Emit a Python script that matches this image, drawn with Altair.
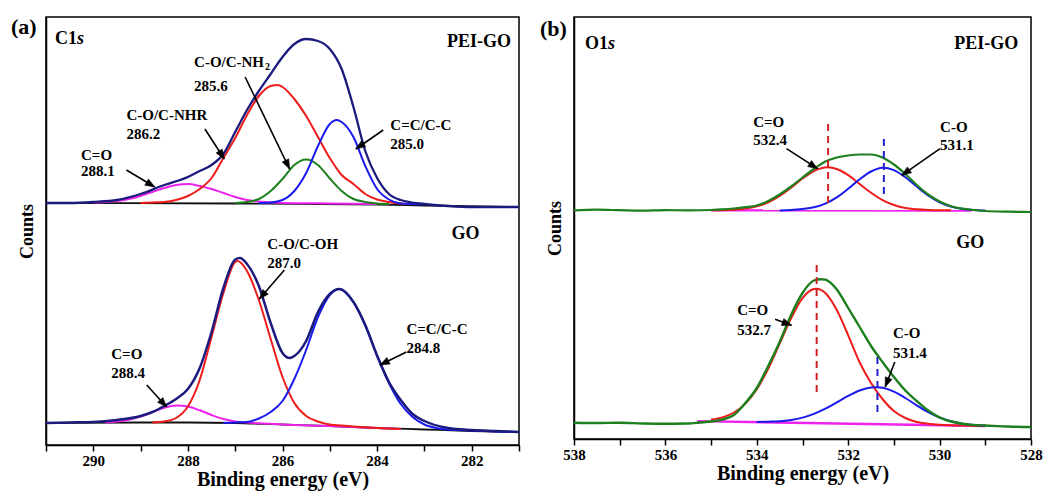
import math
import altair as alt
import pandas as pd

FONT = "Liberation Serif"
NAVY = "#1b1b7d"
RED = "#ee1b1b"
BLUE = "#1a1aee"
GREEN = "#1d7f1d"
MAGENTA = "#ee22ee"
BLACK = "#111111"

# ---------------- Panel (a): C1s, PEI-GO (upper spectrum) ----------------
a1_env_E = [291, 290.5, 290, 289.5, 289, 288.5, 288, 287.75, 287.5, 287.25, 287, 286.75, 286.5, 286.25,
            286, 285.75, 285.5, 285.25, 285, 284.75, 284.5, 284.25, 284, 283.75, 283.5, 283, 282.5, 282, 281.5, 281]
a1_env_C = [242, 242, 243, 245, 251, 260, 268, 274, 280, 291, 313, 335, 354, 371,
            388, 401, 406, 404, 396, 376, 338, 294, 267, 251, 245, 241, 239, 238, 238, 238]
a1_base_E = [291, 287, 284, 283, 281]
a1_base_C = [242, 241.5, 240.5, 239.5, 238]
a1_mag_E = [290, 289.75, 289.5, 289.25, 289, 288.75, 288.5, 288.25, 288, 287.75, 287.5, 287.25, 287,
            286.75, 286.5, 286.25, 286, 285, 284]
a1_mag_C = [242.5, 243, 244, 246, 249, 253, 257, 260, 261, 259, 256, 252, 248,
            245, 243.5, 242.5, 242, 241.5, 241]
a1_red_E = [289, 288.75, 288.5, 288.25, 288, 287.75, 287.5, 287.25, 287, 286.75, 286.5, 286.25, 286.1, 286,
            285.75, 285.5, 285.25, 285, 284.75, 284.5, 284.25, 284, 283.75, 283.5, 283.25]
a1_red_C = [242, 242.5, 243, 245, 249, 256, 267, 287, 307, 330, 349, 359, 360, 358,
            346, 329, 308, 287, 270, 261, 251, 245.5, 243, 241.5, 241]
a1_green_E = [287, 286.75, 286.5, 286.25, 286, 285.75, 285.5, 285.25, 285, 284.75, 284.5, 284.25, 284, 283.75]
a1_green_C = [242, 243, 246, 254, 266, 280, 285.5, 280, 266.5, 254, 246, 243, 241.5, 241]
a1_blue_E = [286.5, 286.25, 286, 285.75, 285.5, 285.25, 285, 284.85, 284.75, 284.5, 284.25, 284, 283.75,
             283.5, 283.25, 283]
a1_blue_C = [242, 242.5, 245, 254, 272, 299, 321, 325, 323, 308, 279, 256, 245.5, 241.5, 241, 240.5]

# ---------------- Panel (a): C1s, GO (lower spectrum) ----------------
a2_env_E = [291, 290.5, 290, 289.5, 289, 288.75, 288.5, 288.25, 288, 287.75, 287.5, 287.25, 287, 286.9,
            286.75, 286.5, 286.25, 286, 285.85, 285.75, 285.5, 285.25, 285, 284.8, 284.5, 284.25, 284,
            283.75, 283.5, 283.25, 283, 282.5, 282, 281.5, 281]
a2_env_C = [22, 22.5, 23, 25, 29, 33, 39, 46, 56, 77, 113, 157, 185.5, 187,
            181, 159, 122, 92, 87, 89, 104, 133, 151, 156, 143, 120, 89.5,
            63, 45, 31, 24, 17, 15, 14, 13]
a2_base_E = [291, 289, 288, 287, 286, 285, 284, 283, 282, 281]
a2_base_C = [22, 22.5, 22.5, 22, 20.5, 19, 17, 15.5, 14, 13]
a2_mag_E = [289.75, 289.5, 289.25, 289, 288.75, 288.5, 288.25, 288, 287.75, 287.5, 287.25, 287, 286.75,
            286.5, 286, 285, 284, 283.5]
a2_mag_C = [22.5, 23.5, 25.3, 28.4, 32.8, 37.2, 39.5, 38.4, 34.7, 30, 26, 23.6, 22.5,
            21.7, 20.5, 19, 17, 16]
a2_red_E = [288.75, 288.5, 288.25, 288, 287.75, 287.5, 287.25, 287, 286.95, 286.75, 286.5, 286.25, 286,
            285.75, 285.5, 285.25, 285, 284.75, 284.5, 284, 283.5]
a2_red_C = [22.5, 23.5, 27, 38.5, 65, 108, 152, 183, 184, 174, 145, 106, 68,
            42, 29, 23.5, 20.5, 19.5, 18.5, 17, 16]
a2_blue_E = [287.25, 287, 286.75, 286.5, 286.25, 286, 285.75, 285.5, 285.25, 285, 284.8, 284.75, 284.5,
             284.25, 284, 283.75, 283.5, 283.25, 283, 282.75, 282.5, 282, 281.5, 281]
a2_blue_C = [22, 22.5, 23, 26.5, 33, 44, 66, 95, 128, 150, 156, 155.5, 143,
             119.5, 89, 62, 41, 28, 20.5, 17, 15.5, 14.5, 13.5, 13]

# ---------------- Panel (b): O1s, PEI-GO ----------------
b1_env_E = [538, 537.5, 537, 536.5, 536, 535.5, 535, 534.75, 534.5, 534.25, 534, 533.75, 533.5, 533.25,
            533, 532.75, 532.5, 532.25, 532, 531.75, 531.5, 531.25, 531, 530.75, 530.5, 530.25, 530,
            529.75, 529.5, 529.25, 529, 528.5, 528]
b1_env_C = [228.7, 229.3, 228.8, 228.4, 228.9, 228.6, 229, 229.6, 230.5, 231.8, 233.5, 238, 244.5, 252.5,
            261.5, 270, 277.5, 281.5, 283.5, 284.5, 284.5, 281.5, 274.5, 265, 254, 244.5, 237.5,
            232.8, 230.3, 229, 228, 227.3, 227]
b1_red_E = [535, 534.5, 534.25, 534, 533.75, 533.5, 533.25, 533, 532.75, 532.45, 532.25, 532, 531.75,
            531.5, 531.25, 531, 530.75, 530.5, 530.25, 530, 529.75]
b1_red_C = [228.7, 229.3, 230.4, 232.6, 236.6, 243, 251.4, 260.5, 268, 271.7, 270, 263.8, 255,
            246.2, 238.9, 234, 231, 229.7, 229, 228.7, 228.7]
b1_blue_E = [533.5, 533.25, 533, 532.75, 532.5, 532.25, 532, 531.75, 531.5, 531.25, 531, 530.75, 530.5,
             530.25, 530, 529.75, 529.5, 529.25, 529]
b1_blue_C = [228.6, 229, 230, 231.7, 235.4, 241.6, 250.2, 259.7, 267.5, 271.2, 268.9, 261.8, 252.5,
             243.5, 236.7, 232.4, 230.1, 229.1, 228.5]
b1_mag_E = [535, 529.3]
b1_mag_C = [228.7, 228.5]
b1_dash_E = [532.44, 531.22]
b1_dash_C1 = [236, 245]
b1_dash_C2 = [316, 305]

# ---------------- Panel (b): O1s, GO ----------------
b2_env_E = [538, 537.5, 537, 536.5, 536, 535.5, 535.25, 535, 534.75, 534.5, 534.25, 534, 533.75, 533.5,
            533.25, 533, 532.75, 532.6, 532.5, 532.25, 532, 531.75, 531.5, 531.25, 531, 530.75, 530.5,
            530.25, 530, 529.75, 529.5, 529.25, 529, 528.5, 528]
b2_env_C = [16.3, 16, 16.2, 15.5, 15.3, 15.5, 16.5, 17.5, 19.5, 24, 36, 51, 73, 97,
            124, 146, 158.5, 159.8, 159.3, 149.5, 131, 112, 93, 77, 62, 48.5, 38,
            28.5, 21.5, 17.5, 15.3, 14, 13.5, 12.5, 12]
b2_red_E = [535, 534.75, 534.5, 534.25, 534, 533.75, 533.5, 533.25, 533, 532.75, 532.69, 532.5, 532.25,
            532, 531.75, 531.5, 531.25, 531, 530.75, 530.5, 530.25, 530, 529.5, 529]
b2_red_C = [19.4, 21.6, 26.5, 35.4, 49.9, 70.3, 95.3, 120.6, 140.9, 150, 150.3, 146, 129,
            103.7, 76.7, 56, 40, 28, 21, 17, 15.2, 14.2, 13.4, 12.9]
b2_blue_E = [534, 533.75, 533.5, 533.25, 533, 532.75, 532.5, 532.25, 532, 531.75, 531.5, 531.38, 531.25,
             531, 530.75, 530.5, 530.25, 530, 529.75, 529.5, 529.25, 529]
b2_blue_C = [17, 17.3, 17.8, 19.1, 21.4, 25.1, 30.3, 36.6, 43.1, 48.5, 51.5, 51.8, 51.2,
             47.4, 41, 33.7, 26.9, 21.5, 17.7, 15.3, 14, 13.3]
b2_mag_E = [535.3, 529]
b2_mag_C = [17.9, 13]
b2_dash_E = [532.69, 531.36]
b2_dash_C1 = [47, 27]
b2_dash_C2 = [174, 85]

# ---------------- Annotations ----------------
a_lab_text = ["C-O/C-NH", "285.6", "C-O/C-NHR", "286.2", "C=O", "288.1", "C=C/C-C", "285.0",
              "C-O/C-OH", "287.0", "C=C/C-C", "284.8", "C=O", "288.4"]
a_lab_E = [287.87, 287.87, 289.30, 289.30, 290.26, 290.26, 283.72, 283.72,
           286.32, 286.32, 283.38, 283.38, 289.62, 289.62]
a_lab_C = [383, 359, 330, 311.5, 290, 274, 320, 301,
           201.5, 182, 116.5, 97, 91.5, 72]
a_arr_E1 = [289.30, 287.64, 286.79, 283.87, 285.96, 283.38, 288.87]
a_arr_C1 = [275, 316, 368, 315, 175, 93, 60]
a_arr_E2 = [288.70, 287.23, 285.85, 284.45, 286.49, 283.94, 288.45]
a_arr_C2 = [258, 286, 276, 296, 146, 80, 38]

b_lab_text = ["C=O", "532.4", "C-O", "531.1", "C=O", "532.7", "C-O", "531.4"]
b_lab_E = [534.08, 534.08, 529.99, 529.99, 534.43, 534.43, 531.02, 531.02]
b_lab_C = [317, 299, 312, 294.5, 129, 109.5, 106, 86]
b_arr_E1 = [533.35, 529.99, 533.6, 530.98]
b_arr_C1 = [290.3, 290.3, 119.7, 77]
b_arr_E2 = [532.67, 530.83, 533.24, 531.19]
b_arr_C2 = [270.3, 263.7, 113.7, 52]

A_W, A_H = 473, 428
B_W, B_H = 457, 422

xa = alt.Scale(domain=[281, 291], reverse=True, nice=False, zero=False)
ya = alt.Scale(domain=[0, 428], nice=False, zero=False)
xb = alt.Scale(domain=[528, 538], reverse=True, nice=False, zero=False)
yb = alt.Scale(domain=[0, 422], nice=False, zero=False)


def x_axis(vals):
    return alt.Axis(values=vals, labelExpr="datum.value % 2 == 0 ? datum.label : ''", format="d",
                    title="Binding energy (eV)", grid=False, tickSize=6, tickWidth=1.5, tickColor="black",
                    domainColor="black", domainWidth=1.5, labelFont=FONT, labelFontSize=15,
                    labelFontWeight="bold", labelColor="black", labelPadding=2, labelFlush=False,
                    titleFont=FONT, titleFontSize=20, titleFontWeight="bold", titleColor="black",
                    titlePadding=1)


def y_axis(pad):
    return alt.Axis(title="Counts", labels=False, ticks=False, grid=False, domainColor="black",
                    domainWidth=1.5, titleFont=FONT, titleFontSize=18, titleFontWeight="bold",
                    titleColor="black", titlePadding=pad)


def enc(xs, ys, xax, yax):
    return dict(x=alt.X("E:Q", scale=xs, axis=xax), y=alt.Y("C:Q", scale=ys, axis=yax))


def curve(E, C, color, ctx, width=2.0):
    df = pd.DataFrame({"E": E, "C": C})
    return alt.Chart(df).mark_line(color=color, strokeWidth=width, interpolate="monotone",
                                   clip=True).encode(**enc(*ctx))


def texts(txt, E, C, ctx, size=15, align="left", dx=0, dy=0, style="normal"):
    df = pd.DataFrame({"t": txt, "E": E, "C": C})
    return alt.Chart(df).mark_text(align=align, baseline="middle", font=FONT, fontWeight="bold",
                                   fontSize=size, fontStyle=style, color="black", dx=dx,
                                   dy=dy).encode(text="t:N", **enc(*ctx))


def arrows(E1, C1, E2, C2, ctx, px_per_ev, px_per_c):
    ang = []
    for e1, c1, e2, c2 in zip(E1, C1, E2, C2):
        dx = -(e2 - e1) * px_per_ev
        dy = -(c2 - c1) * px_per_c
        ang.append(math.degrees(math.atan2(dx, -dy)) % 360)
    df = pd.DataFrame({"E": E1, "C": C1, "E2": E2, "C2": C2, "ang": ang})
    xs, ys, xax, yax = ctx
    shaft = alt.Chart(df).mark_rule(color="black", strokeWidth=1.6).encode(
        x=alt.X("E:Q", scale=xs, axis=xax), y=alt.Y("C:Q", scale=ys, axis=yax),
        x2="E2:Q", y2="C2:Q")
    head = alt.Chart(df).mark_point(shape="M0,0L-0.42,1.1L0.42,1.1Z", filled=True, fill="black",
                                    stroke="black", strokeWidth=0.5, size=300, opacity=1).encode(
        x=alt.X("E2:Q", scale=xs, axis=xax), y=alt.Y("C2:Q", scale=ys, axis=yax),
        angle=alt.Angle("ang:Q", scale=None))
    return [shaft, head]


def dashes(E, C1, C2, colors, ctx):
    xs, ys, xax, yax = ctx
    out = []
    for e, c1, c2, col in zip(E, C1, C2, colors):
        df = pd.DataFrame({"E": [e], "C": [c1], "C2": [c2]})
        out.append(alt.Chart(df).mark_rule(color=col, strokeWidth=2, strokeDash=[7, 5]).encode(
            x=alt.X("E:Q", scale=xs, axis=xax), y=alt.Y("C:Q", scale=ys, axis=yax), y2="C2:Q"))
    return out


def corner(label, x, y):
    return alt.Chart(pd.DataFrame({"t": [label]})).mark_text(
        align="left", baseline="middle", font=FONT, fontWeight="bold", fontSize=22,
        color="black").encode(text="t:N", x=alt.value(x), y=alt.value(y))


ctx_a = (xa, ya, x_axis(list(range(281, 292))), y_axis(10))
ctx_b = (xb, yb, x_axis(list(range(528, 539))), y_axis(10))

layers_a = [
    curve(a1_base_E, a1_base_C, BLACK, ctx_a, 1.8),
    curve(a1_mag_E, a1_mag_C, MAGENTA, ctx_a),
    curve(a1_green_E, a1_green_C, GREEN, ctx_a),
    curve(a1_red_E, a1_red_C, RED, ctx_a),
    curve(a1_blue_E, a1_blue_C, BLUE, ctx_a),
    curve(a1_env_E, a1_env_C, NAVY, ctx_a, 2.3),
    curve(a2_base_E, a2_base_C, BLACK, ctx_a, 1.8),
    curve(a2_mag_E, a2_mag_C, MAGENTA, ctx_a),
    curve(a2_red_E, a2_red_C, RED, ctx_a),
    curve(a2_blue_E, a2_blue_C, BLUE, ctx_a),
    curve(a2_env_E, a2_env_C, NAVY, ctx_a, 2.5),
    texts(a_lab_text, a_lab_E, a_lab_C, ctx_a),
    texts(["2"], [287.87], [383], ctx_a, size=10, dx=71, dy=5),
    texts(["C1"], [290.81], [406.5], ctx_a, size=18),
    texts(["s"], [290.81], [406.5], ctx_a, size=18, dx=22, style="italic"),
    texts(["PEI-GO"], [281.17], [403], ctx_a, size=18, align="right"),
    texts(["GO"], [282.13], [211.5], ctx_a, size=18, align="center"),
    *arrows(a_arr_E1, a_arr_C1, a_arr_E2, a_arr_C2, ctx_a, A_W / 10, A_H / 428),
    corner("(a)", -35, 10),
]

layers_b = [
    curve(b1_mag_E, b1_mag_C, MAGENTA, ctx_b, 2.4),
    curve(b1_red_E, b1_red_C, RED, ctx_b),
    curve(b1_blue_E, b1_blue_C, BLUE, ctx_b),
    curve(b1_env_E, b1_env_C, GREEN, ctx_b, 2.2),
    curve(b2_mag_E, b2_mag_C, MAGENTA, ctx_b, 2.4),
    curve(b2_red_E, b2_red_C, RED, ctx_b),
    curve(b2_blue_E, b2_blue_C, BLUE, ctx_b),
    curve(b2_env_E, b2_env_C, GREEN, ctx_b, 2.4),
    *dashes(b1_dash_E, b1_dash_C1, b1_dash_C2, ["#cc2222", "#2222cc"], ctx_b),
    *dashes(b2_dash_E, b2_dash_C1, b2_dash_C2, ["#cc2222", "#2222cc"], ctx_b),
    texts(b_lab_text, b_lab_E, b_lab_C, ctx_b),
    texts(["O1"], [537.76], [395.5], ctx_b, size=18),
    texts(["s"], [537.76], [395.5], ctx_b, size=18, dx=23, style="italic"),
    texts(["PEI-GO"], [528.28], [395.5], ctx_b, size=18, align="right"),
    texts(["GO"], [529.33], [196], ctx_b, size=18, align="center"),
    *arrows(b_arr_E1, b_arr_C1, b_arr_E2, b_arr_C2, ctx_b, B_W / 10, B_H / 422),
    corner("(b)", -34, 12),
]

panel_a = alt.layer(*layers_a).properties(width=A_W, height=A_H)
panel_b = alt.layer(*layers_b).properties(width=B_W, height=B_H)

chart = alt.hconcat(panel_a, panel_b, spacing=18).properties(
    padding={"left": 10, "top": 15, "right": 0, "bottom": 6},
    background="white",
).configure_view(stroke="black", strokeWidth=1.5)

chart.save("out.html", embed_options={"renderer": "svg", "actions": False})
